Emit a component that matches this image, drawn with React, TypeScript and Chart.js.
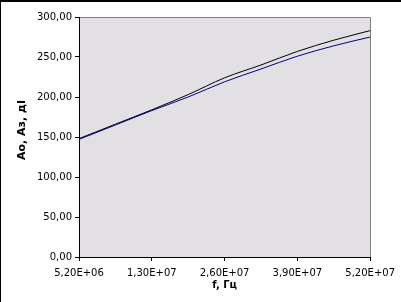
import React, { useEffect, useRef } from "react";
import { Chart, registerables } from "chart.js";

Chart.register(...registerables);

const categories = [
  "5,20E+06", "9,10E+06", "1,30E+07", "1,95E+07", "2,60E+07",
  "3,25E+07", "3,90E+07", "4,55E+07", "5,20E+07",
];
const seriesAo = [148, 166, 184, 203, 224, 240, 257, 271, 283];
const seriesAz = [147, 165, 183, 200, 219, 235, 251, 264, 275];
const yTicks = [0, 50, 100, 150, 200, 250, 300];
const yTitle = "Ao, Aз, дI";
const xTitle = "f, Гц";

const FONT = "'DejaVu Sans', Verdana, sans-serif";

export default function App() {
  const ref = useRef<HTMLCanvasElement | null>(null);

  useEffect(() => {
    if (!ref.current) return;
    const framePlugin = {
      id: "frame",
      beforeDraw(chart: any) {
        const { ctx, chartArea: a, width, height } = chart;
        ctx.save();
        ctx.fillStyle = "#ffffff";
        ctx.fillRect(0, 0, width, height);
        ctx.fillStyle = "#e3e0e4";
        ctx.fillRect(a.left, a.top, a.right - a.left, a.bottom - a.top);
        ctx.strokeStyle = "#808080";
        ctx.lineWidth = 1;
        ctx.beginPath();
        ctx.moveTo(a.left, Math.round(a.top) + 0.5);
        ctx.lineTo(Math.round(a.right) + 0.5, Math.round(a.top) + 0.5);
        ctx.lineTo(Math.round(a.right) + 0.5, a.bottom);
        ctx.stroke();
        ctx.restore();
      },
      afterDraw(chart: any) {
        const { ctx, chartArea: a, width, height } = chart;
        ctx.save();
        ctx.fillStyle = "#000000";
        ctx.fillRect(0, 0, width, 2);
        ctx.fillRect(0, 0, 1, height);
        ctx.font = `bold 10px ${FONT}`;
        ctx.textAlign = "center";
        ctx.textBaseline = "middle";
        ctx.fillText(xTitle, (a.left + a.right) / 2, a.bottom + 28);
        ctx.translate(22, 130);
        ctx.rotate(-Math.PI / 2);
        ctx.font = `bold 11px ${FONT}`;
        ctx.fillText(yTitle, 0, 0);
        ctx.restore();
      },
    };

    const chart = new Chart(ref.current, {
      type: "line",
      data: {
        labels: categories,
        datasets: [
          {
            label: "Aз",
            data: seriesAz,
            borderColor: "#000080",
            borderWidth: 1,
            pointRadius: 0,
            cubicInterpolationMode: "monotone",
          },
          {
            label: "Ao",
            data: seriesAo,
            borderColor: "#000000",
            borderWidth: 1,
            pointRadius: 0,
            cubicInterpolationMode: "monotone",
          },
        ],
      },
      options: {
        responsive: false,
        animation: false,
        events: [],
        layout: { padding: { top: 17, right: 30, left: 0, bottom: 0 } },
        plugins: { legend: { display: false }, tooltip: { enabled: false }, title: { display: false } },
        scales: {
          x: {
            type: "category",
            offset: false,
            border: { color: "#000000", width: 1 },
            grid: {
              drawOnChartArea: false,
              tickLength: 4,
              tickColor: (c: any) => (c.index % 2 === 0 ? "#000000" : "rgba(0,0,0,0)"),
            },
            ticks: {
              autoSkip: false,
              maxRotation: 0,
              padding: 6,
              color: "#000000",
              font: { family: FONT, size: 10 },
              callback: (_v: any, i: number) => (i % 2 === 0 ? categories[i] : ""),
            },
            afterFit: (s: any) => {
              s.height = 45;
            },
          },
          y: {
            min: yTicks[0],
            max: yTicks[yTicks.length - 1],
            border: { color: "#000000", width: 1 },
            grid: { drawOnChartArea: false, tickLength: 4, tickColor: "#000000" },
            ticks: {
              stepSize: 50,
              padding: 3,
              color: "#000000",
              font: { family: FONT, size: 10 },
              callback: (v: any) => Number(v).toFixed(2).replace(".", ","),
            },
            afterFit: (s: any) => {
              s.width = 79;
            },
          },
        },
      },
      plugins: [framePlugin],
    });
    return () => chart.destroy();
  }, []);

  return (
    <div style={{ position: "fixed", left: 0, top: 0, width: 401, height: 302, background: "#fff" }}>
      <canvas ref={ref} width={401} height={302} style={{ display: "block" }} />
    </div>
  );
}
